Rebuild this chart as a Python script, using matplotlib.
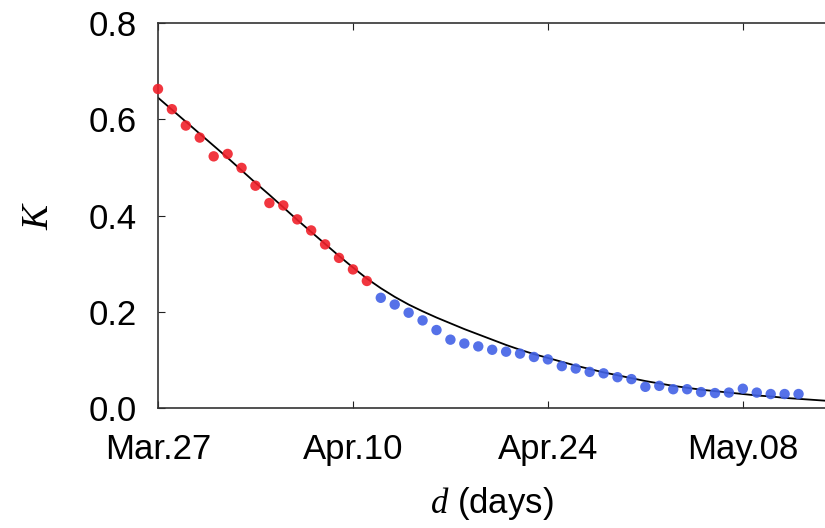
import numpy as np
import matplotlib
matplotlib.use("Agg")
import matplotlib.pyplot as plt

plt.rcParams['font.family'] = ['Liberation Sans', 'DejaVu Sans']
plt.rcParams['mathtext.fontset'] = 'custom'
plt.rcParams['mathtext.it'] = 'Liberation Serif:italic'
plt.rcParams['mathtext.rm'] = 'Liberation Serif'

# daily K values, day 0 = Mar.27
early_days = np.arange(0, 16)
early_k = [0.663, 0.621, 0.587, 0.562, 0.523, 0.528, 0.499, 0.462,
           0.426, 0.421, 0.392, 0.369, 0.340, 0.312, 0.288, 0.264]

late_days = np.arange(16, 47)
late_k = [0.229, 0.215, 0.198, 0.182, 0.162, 0.142, 0.134, 0.128,
          0.121, 0.117, 0.113, 0.106, 0.101, 0.087, 0.082, 0.075,
          0.072, 0.064, 0.060, 0.044, 0.046, 0.039, 0.039, 0.033,
          0.031, 0.032, 0.040, 0.032, 0.029, 0.029, 0.029]

# fitted curve
fit_days = np.arange(0, 49)
fit_k = [0.645, 0.620, 0.595, 0.570, 0.545, 0.520, 0.494, 0.468,
         0.443, 0.417, 0.391, 0.366, 0.341, 0.316, 0.292, 0.269,
         0.249, 0.231, 0.215, 0.201, 0.188, 0.176, 0.164, 0.153,
         0.142, 0.131, 0.121, 0.112, 0.104, 0.096, 0.088, 0.081,
         0.074, 0.068, 0.062, 0.056, 0.051, 0.046, 0.042, 0.038,
         0.035, 0.032, 0.029, 0.026, 0.024, 0.021, 0.019, 0.017, 0.015]

tick_days = [0, 14, 28, 42]
tick_labels = ['Mar.27', 'Apr.10', 'Apr.24', 'May.08']

fig = plt.figure(figsize=(8.25, 5.28), dpi=100)
ax = fig.add_axes([0.1915, 0.2273, 0.8085, 0.729])

ax.plot(fit_days, fit_k, color='black', linewidth=1.3, zorder=2)
ax.scatter(early_days, early_k, s=56, color='#f0202a', edgecolors='none',
           alpha=0.9, zorder=3, clip_on=False)
ax.scatter(late_days, late_k, s=56, color='#4262e6', edgecolors='none',
           alpha=0.9, zorder=3, clip_on=False)

ax.set_xlim(0, 47.9)
ax.set_ylim(0, 0.8)
ax.set_xticks(tick_days)
ax.set_xticklabels(tick_labels)
ax.set_yticks([0.0, 0.2, 0.4, 0.6, 0.8])
ax.set_yticklabels(['0.0', '0.2', '0.4', '0.6', '0.8'])

ax.tick_params(axis='both', direction='in', length=5, width=0.8,
               labelsize=25, colors='#222222', labelcolor='black')
ax.tick_params(axis='x', pad=18, top=True)
ax.tick_params(axis='y', pad=15)

ax.spines['right'].set_visible(False)
for side in ['left', 'top', 'bottom']:
    ax.spines[side].set_linewidth(1.2)
    ax.spines[side].set_color('#333333')

ax.set_xlabel(r'$\mathit{d}$ (days)', fontsize=25, labelpad=14)
ax.set_ylabel(r'$\mathit{K}$', fontsize=27, labelpad=24)

fig.savefig('out.png', dpi=100, facecolor='white')
plt.close(fig)
